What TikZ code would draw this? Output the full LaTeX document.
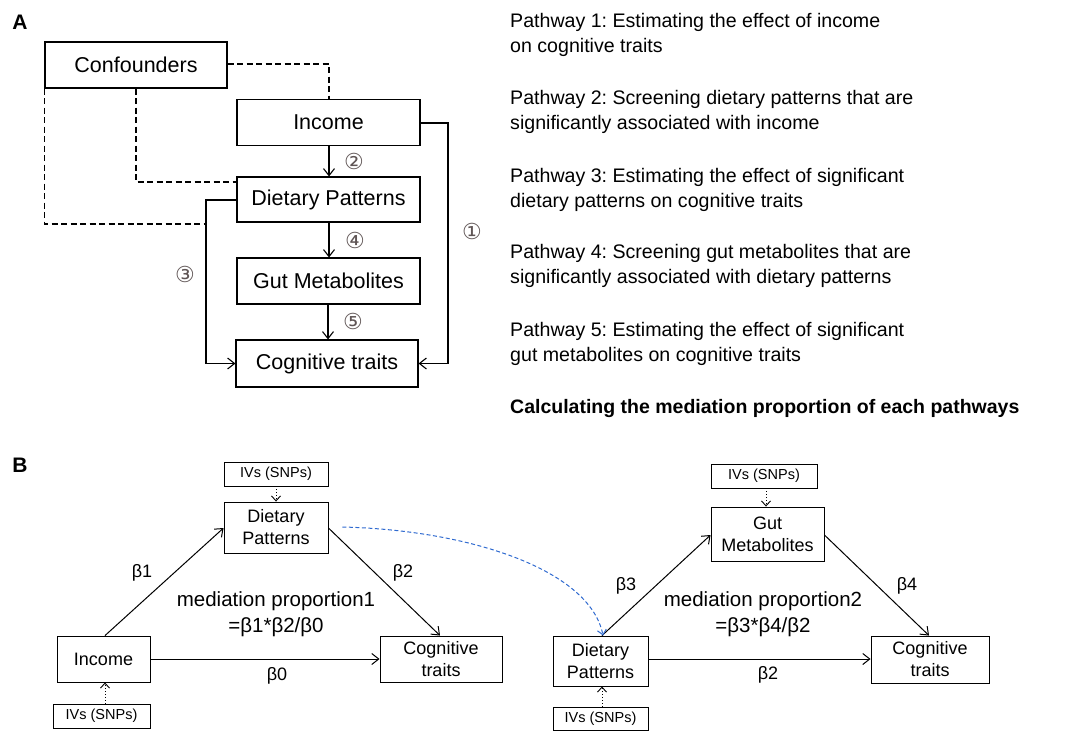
\documentclass[tikz,border=0pt]{standalone}
\usepackage{fontspec}
\setmainfont{Liberation Sans}
\newfontfamily\circfont{DejaVu Sans}
\usetikzlibrary{arrows.meta}
\definecolor{curveblue}{RGB}{47,106,208}
\definecolor{circgray}{RGB}{95,85,85}
\frenchspacing
\begin{document}
\begin{tikzpicture}[x=1pt,y=-1pt,
  boxA/.style={draw,line width=1.1pt,minimum width=183pt,minimum height=46pt,inner sep=0pt,font=\fontsize{21.5}{25}\selectfont},
  boxB/.style={draw,line width=0.9pt,inner sep=0pt,align=center,font=\fontsize{18}{22}\selectfont},
  ivbox/.style={draw,line width=0.9pt,inner sep=0pt,font=\fontsize{14.5}{16}\selectfont},
  arr/.style={line width=1.1pt,-{Straight Barb[length=7pt,width=11pt]}},
  dashln/.style={line width=1.1pt,dash pattern=on 6pt off 3.5pt},
  dotarr/.style={line width=0.9pt,dotted,-{Straight Barb[length=5pt,width=9pt]}},
  circ/.style={font=\circfont\fontsize{22}{24}\selectfont,text=circgray,inner sep=0pt},
  ptext/.style={anchor=base west,inner sep=0pt,font=\fontsize{19.6}{24}\selectfont},
  lab/.style={inner sep=0pt,font=\fontsize{18}{22}\selectfont},
  panel/.style={inner sep=0pt,font=\fontsize{21}{24}\selectfont\bfseries}]
\useasboundingbox (0,0) rectangle (1071,731);

% ---------------- Panel A ----------------
\node[panel] (A) at (20,22) {A};
\node[boxA,minimum width=182pt] (conf) at (136,65) {Confounders};
\node[boxA] (inc) at (328.5,122.5) {Income};
\node[boxA,minimum height=45pt] (diet) at (328.5,199.5) {Dietary Patterns};
\node[boxA] (gut) at (328.5,281) {Gut Metabolites};
\node[boxA,minimum width=182pt,minimum height=47pt] (cog) at (327,363.5) {Cognitive traits};

\coordinate (c1) at (329,64);
\coordinate (c2) at (136,182);
\coordinate (c3e) at (206,224);
\draw[dashln] (conf.east |- c1) -| (inc.north -| c1);
\draw[dashln] (conf.south -| c2) |- (diet.west |- c2);
\draw[dashln] (conf.south west) |- (c3e);

\draw[arr] (inc.south -| 329,0) -- (diet.north -| 329,0);
\draw[arr] (diet.south -| 329,0) -- (gut.north -| 329,0);
\draw[arr] (gut.south -| 328,0) -- (cog.north -| 328,0);
\coordinate (r1) at (448,123);
\coordinate (l3) at (206,200);
\draw[arr] (inc.east |- r1) -| (r1 |- cog.east) -- (cog.east);
\draw[arr] (diet.west |- l3) -| (l3 |- cog.west) -- (cog.west);

\node[circ] (n2) at (354,161) {②};
\node[circ] (n4) at (355,240) {④};
\node[circ] (n5) at (353,321) {⑤};
\node[circ] (n1) at (472,231) {①};
\node[circ] (n3) at (185,274) {③};

% ---------------- Pathway texts ----------------
\node[ptext] (p1a) at (510,27) {Pathway 1: Estimating the effect of income};
\node[ptext] (p1b) at (510,52) {on cognitive traits};
\node[ptext] (p2a) at (510,104) {Pathway 2: Screening dietary patterns that are};
\node[ptext] (p2b) at (510,129) {significantly associated with income};
\node[ptext] (p3a) at (510,182) {Pathway 3: Estimating the effect of significant};
\node[ptext] (p3b) at (510,207) {dietary patterns on cognitive traits};
\node[ptext] (p4a) at (510,258) {Pathway 4: Screening gut metabolites that are};
\node[ptext] (p4b) at (510,283) {significantly associated with dietary patterns};
\node[ptext] (p5a) at (510,336) {Pathway 5: Estimating the effect of significant};
\node[ptext] (p5b) at (510,361) {gut metabolites on cognitive traits};
\node[ptext,font=\fontsize{19.5}{24}\selectfont\bfseries] (calc) at (510,413) {Calculating the mediation proportion of each pathways};

% ---------------- Panel B ----------------
\node[panel] (B) at (20,465) {B};

% left triangle
\node[ivbox,minimum width=104pt,minimum height=24pt] (iv1) at (276,474) {IVs (SNPs)};
\node[boxB,minimum width=104pt,minimum height=51pt] (dp1) at (276,527.5) {Dietary\\Patterns};
\node[boxB,minimum width=93pt,minimum height=46pt] (inc1) at (103.5,659) {Income};
\node[boxB,minimum width=122pt,minimum height=46pt] (cg1) at (441,659) {Cognitive\\traits};
\node[ivbox,minimum width=97pt,minimum height=24pt] (iv2) at (101.5,716) {IVs (SNPs)};

\draw[arr,line width=1pt] (inc1.north -| 105,0) -- (dp1.west |- 0,528);
\draw[arr,line width=1pt] (dp1.east |- 0,528) -- (cg1.north -| 440,0);
\draw[arr,line width=1pt] (inc1.east) -- (cg1.west);
\draw[dotarr] (iv1.south) -- (dp1.north);
\draw[dotarr] (iv2.north -| 105,0) -- (inc1.south -| 105,0);

\node[lab] (b1) at (142,573) {β1};
\node[lab] (b2) at (403,573) {β2};
\node[lab] (b0) at (277,676) {β0};
\node[inner sep=0pt,align=center,font=\fontsize{20.5}{26}\selectfont] (mp1) at (276,614) {mediation proportion1\\=β1*β2/β0};

% right triangle
\node[ivbox,minimum width=106pt,minimum height=24pt] (iv3) at (764,476) {IVs (SNPs)};
\node[boxB,minimum width=113pt,minimum height=54pt] (gm) at (767.5,534) {Gut\\Metabolites};
\node[boxB,minimum width=95pt,minimum height=50pt] (dp2) at (600.5,661) {Dietary\\Patterns};
\node[boxB,minimum width=118pt,minimum height=47pt] (cg2) at (930,659.5) {Cognitive\\traits};
\node[ivbox,minimum width=95pt,minimum height=23pt] (iv4) at (600.5,718.5) {IVs (SNPs)};

\draw[arr,line width=1pt] (dp2.north -| 602,0) -- (gm.west |- 0,535);
\draw[arr,line width=1pt] (gm.east |- 0,535) -- (cg2.north -| 929,0);
\draw[arr,line width=1pt] (dp2.east |- 0,659) -- (cg2.west |- 0,659);
\draw[dotarr] (iv3.south -| 766,0) -- (gm.north -| 766,0);
\draw[dotarr] (iv4.north -| 602,0) -- (dp2.south -| 602,0);

\node[lab] (b3) at (626,586) {β3};
\node[lab] (b4) at (907,586) {β4};
\node[lab] (b2r) at (768,675) {β2};
\node[inner sep=0pt,align=center,font=\fontsize{20.5}{26}\selectfont] (mp2) at (763,614) {mediation proportion2\\=β3*β4/β2};

% blue dashed curve
\draw[curveblue,line width=1pt,dash pattern=on 4pt off 2.5pt,-{Straight Barb[length=5pt,width=9pt]}]
  (dp1.east |- 0,527) ++(14,0) .. controls (470,530) and (590,570) .. (dp2.north -| 603,0);
\end{tikzpicture}
\end{document}
